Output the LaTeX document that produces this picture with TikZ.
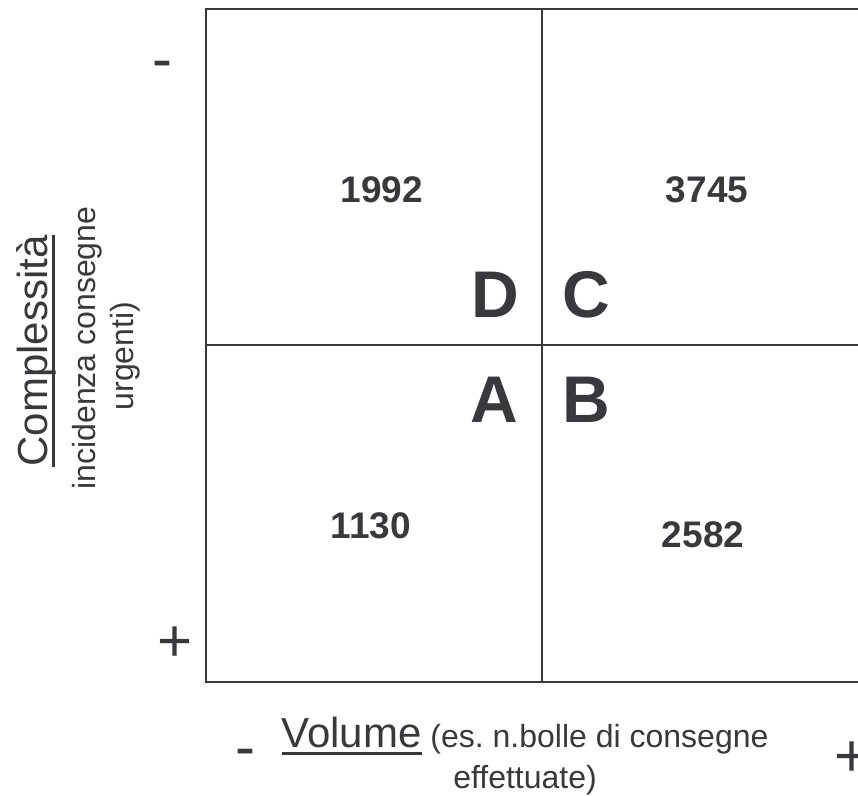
\documentclass[tikz,border=0pt]{standalone}
\usepackage{fontspec}
\setmainfont{Liberation Sans}
\frenchspacing
\definecolor{ink}{HTML}{38383D}
\newcommand{\ulword}[1]{\setbox0\hbox{#1}\rlap{\copy0}\raisebox{-0.2em}{\rule{\wd0}{0.075em}}}

\begin{document}
\begin{tikzpicture}[x=1pt,y=-1pt,
    every node/.style={text=ink,inner sep=0pt},
    grid/.style={draw=ink,line width=2pt},
    count/.style={anchor=base,font=\fontsize{37}{44}\selectfont\bfseries},
    zone/.style={anchor=base,font=\fontsize{66}{79}\selectfont\bfseries},
    sign/.style={anchor=base,font=\fontsize{60}{72}\selectfont},
    axis/.style={anchor=base,font=\fontsize{32}{38}\selectfont}]
      \useasboundingbox (0,0) rectangle (858,795);
      \clip (0,0) rectangle (858,795);
      \draw [grid] (206,9) rectangle (878,682);
      \draw [grid] (542,9) -- (542,682);
      \draw [grid] (206,345) -- (878,345);
      \node [count] (n1992) at (382,202) {1992};
      \node [count] (n3745) at (707,202) {3745};
      \node [count] (n1130) at (371,538) {1130};
      \node [count] (n2582) at (703,547) {2582};
      \node [zone] (zoneD) at (495,317) {D};
      \node [zone] (zoneC) at (586,317) {C};
      \node [zone] (zoneA) at (494,422) {A};
      \node [zone] (zoneB) at (586,422) {B};
      \node [sign] (ylow) at (162,79) {-};
      \node [sign] (yhigh) at (175,661) {+};
      \node [sign] (xlow) at (245,767) {-};
      \node [sign] (xhigh) at (852,776) {+};
      \node [axis] (xtitle) at (525,747) {{\fontsize{42}{50}\selectfont\ulword{Volume}} (es. n.bolle di consegne};
      \node [axis] (xnote) at (525,788) {effettuate)};
      \node [axis,rotate=90] (ytitle) at (47,351) {\fontsize{42}{50}\selectfont\ulword{Complessità}};
      \node [axis,rotate=90] (ynote) at (95,348) {incidenza consegne};
      \node [axis,rotate=90] (ynote2) at (133,356) {urgenti)};
    \end{tikzpicture}
\end{document}
